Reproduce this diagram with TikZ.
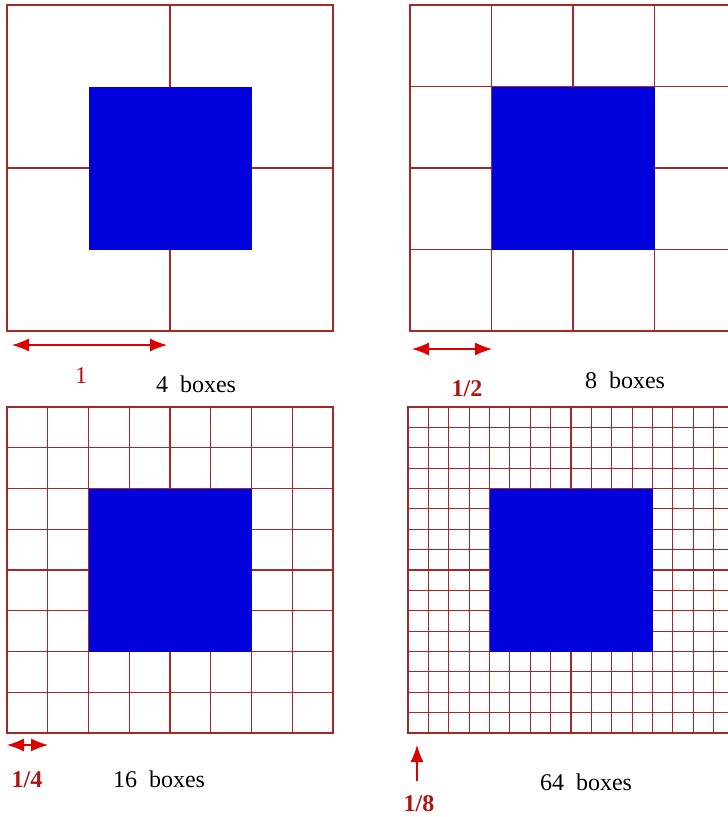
\documentclass[tikz,border=0pt]{standalone}
\usepackage{fontspec}
\setmainfont{Liberation Serif}
\usetikzlibrary{arrows.meta}
\definecolor{gridred}{RGB}{165,40,40}
\definecolor{boxblue}{RGB}{0,0,220}
\definecolor{arrowred}{RGB}{222,0,0}
\definecolor{labelred}{RGB}{175,20,20}
\tikzset{
  gridline/.style={draw=gridred, line width=1.2pt, line cap=rect},
  region/.style={fill=boxblue},
  scalearrow/.style={arrowred, line width=1.2pt,
    {Latex[length=17pt,width=13pt]}-{Latex[length=17pt,width=13pt]}},
  uparrow/.style={arrowred, line width=1.2pt, -{Latex[length=17pt,width=13pt]}},
  scalelabel/.style={text=labelred, anchor=base, inner sep=0pt,
    font=\fontsize{24}{28}\selectfont\bfseries},
  countlabel/.style={text=black, anchor=base, inner sep=0pt,
    font=\fontsize{24}{28}\selectfont}
}

\begin{document}
\begin{tikzpicture}[x=1pt, y=-1pt]
    \useasboundingbox (0,0) rectangle (728,817);
    \clip (0,0) rectangle (728,817);
    \pgfmathsetmacro{\side}{326}

    % four grids, each with the same central square
    \foreach \ox/\oy/\n in {7/5/2, 410/5/4, 7/407/8, 408/407/16} {
        \pgfmathsetmacro{\cell}{\side/\n}
        \foreach \k in {0,...,\n} {
            \draw[gridline] ({\ox+\k*\cell},\oy) -- ++(0,\side);
            \draw[gridline] (\ox,{\oy+\k*\cell}) -- ++(\side,0);
        }
        \fill[region] ({\ox+\side/4},{\oy+\side/4}) rectangle ++({\side/2},{\side/2});
    }

    % box sizes
    \coordinate (oneL) at (12,345);
    \coordinate (oneR) at (167,345);
    \draw[scalearrow] (oneL) -- (oneR);
    \node[scalelabel, font=\fontsize{24}{28}\selectfont] (one) at (81,383) {1};
    \node[countlabel] (four) at (196,392) {4\hspace{0.5em}boxes};

    \coordinate (halfL) at (412,349);
    \coordinate (halfR) at (492,349);
    \draw[scalearrow] (halfL) -- (halfR);
    \node[scalelabel] (half) at (467,396) {1/2};
    \node[countlabel] (eight) at (625,388) {8\hspace{0.5em}boxes};

    \coordinate (quarterL) at (7,745);
    \coordinate (quarterR) at (48,745);
    \draw[scalearrow] (quarterL) -- (quarterR);
    \node[scalelabel] (quarter) at (27,787) {1/4};
    \node[countlabel] (sixteen) at (159,787) {16\hspace{0.5em}boxes};

    \coordinate (eighthB) at (417,781);
    \coordinate (eighthT) at (417,745);
    \draw[uparrow] (eighthB) -- (eighthT);
    \node[scalelabel] (eighth) at (419,811) {1/8};
    \node[countlabel] (sixtyfour) at (586,790) {64\hspace{0.5em}boxes};
\end{tikzpicture}
\end{document}
